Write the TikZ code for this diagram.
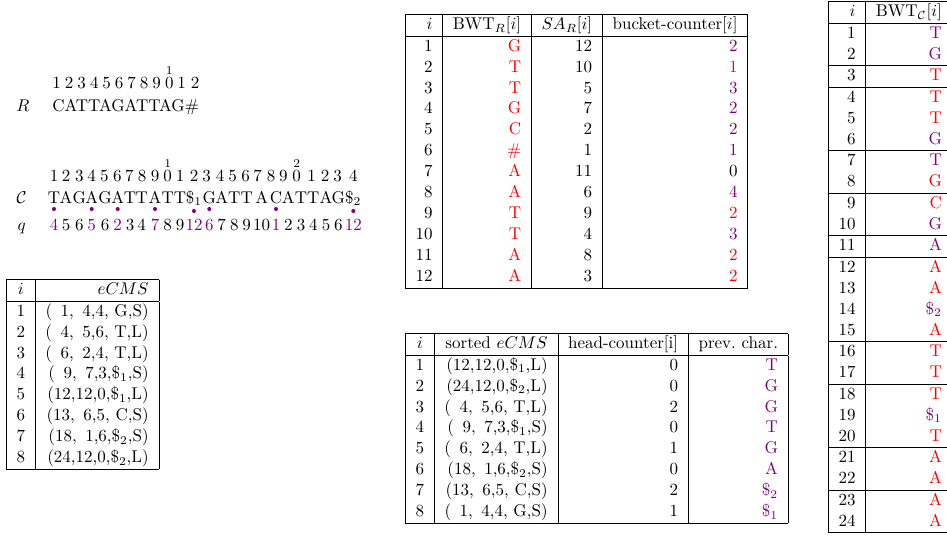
\documentclass[tikz,border=0pt]{standalone}
\renewcommand{\arraystretch}{1.025}
\newcommand{\rd}[1]{\textcolor{red}{#1}}
\newcommand{\pu}[1]{\textcolor{violet}{#1}}
\newcommand{\dol}[1]{\$\ensuremath{_{#1}}}
\newcommand{\ph}{\phantom{1}}
\begin{document}
\begin{tikzpicture}[x=0.5882pt,y=-0.5882pt,
        tbl/.style={anchor=north west,inner sep=0pt},
        chr/.style={anchor=base,inner sep=0pt},
        tens/.style={anchor=base,inner sep=0pt,font=\scriptsize},
        qdot/.style={circle,fill=violet,inner sep=0pt,minimum size=2.4pt}]
        \useasboundingbox (0,0) rectangle (947,536);
        \node[chr] (lR) at (23,111) {$R$};
        \node[chr,anchor=base west] (R) at (52,111) {CATTAGATTAG\#};
        \foreach \x/\d [count=\k] in {56.7/1,69/2,81.7/3,94.3/4,106.7/5,119/6,131.7/7,144/8,156.7/9,169.3/0,181.7/1,195/2}
            \node[chr] (r\k) at (\x,88.5) {\d};
        \node[tens] (rt1) at (169.3,74.5) {1};
        \node[chr] (lC) at (21.7,203) {$\mathcal{C}$};
        \node[chr] (lq) at (21.7,230.5) {$q$};
        \foreach \x/\d [count=\k] in {54/1,66/2,79.3/3,91.7/4,104.3/5,117.3/6,129.3/7,142/8,155/9,167.7/0,180/1,194/2,206.7/3,220/4,232.7/5,245.7/6,257.7/7,271/8,283.3/9,296.7/0,311.7/1,325/2,337.7/3,353.3/4}
            \node[chr] (n\k) at (\x,181.5) {\d};
        \node[tens] (ct1) at (167.7,167.5) {1};
        \node[tens] (ct2) at (296.7,167.5) {2};
        \foreach \x/\c [count=\k] in {54/T,66/A,79.3/G,91.7/A,105/G,117.7/A,130/T,141.7/T,155/A,167.7/T,180/T,194/\dol1,209.3/G,221.7/A,234.3/T,246.7/T,261.7/A,276/C,288.3/A,301/T,313.3/T,326/A,338.3/G,353.3/\dol2}
            \node[chr] (c\k) at (\x,203) {\c};
        \foreach \x/\y [count=\k] in {54/209,91.7/209,117.7/209,155/209,194/211,209.3/209,276/209,353.3/211}
            \node[qdot] (dot\k) at (\x,\y) {};
        \foreach \x/\v/\col [count=\k] in {54/4/violet,66/5/black,79.3/6/black,91.7/5/violet,105/6/black,117.7/2/violet,130/3/black,141.7/4/black,155/7/violet,167.7/8/black,180/9/black,194/12/violet,209.3/6/violet,221.7/7/black,234.3/8/black,246.7/9/black,261.7/10/black,276/1/violet,288.3/2/black,301/3/black,313.3/4/black,326/5/black,338.3/6/black,353.3/12/violet}
            \node[chr,text=\col] (q\k) at (\x,230.5) {\v};
        \node[tbl] (eCMS) at (6,279) {\begin{tabular}{|c|r|}\hline
            $i$ & $eCMS$\\\hline
            1 & (\ph1,\ph4,4,\ G,S)\\
            2 & (\ph4,\ph5,6,\ T,L)\\
            3 & (\ph6,\ph2,4,\ T,L)\\
            4 & (\ph9,\ph7,3,\dol1,S)\\
            5 & (12,12,0,\dol1,L)\\
            6 & (13,\ph6,5,\ C,S)\\
            7 & (18,\ph1,6,\dol2,S)\\
            8 & (24,12,0,\dol2,L)\\\hline
        \end{tabular}};
        \node[tbl] (bwtR) at (405,14) {\begin{tabular}{|r|r|r|r|}\hline
            $i$ & BWT$_R[i]$ & $SA_R[i]$ & bucket-counter$[i]$\\\hline
            1 & \rd{G} & 12 & \pu{2}\\
            2 & \rd{T} & 10 & \rd{1}\\
            3 & \rd{T} & 5 & \pu{3}\\
            4 & \rd{G} & 7 & \pu{2}\\
            5 & \rd{C} & 2 & \pu{2}\\
            6 & \rd{\#} & 1 & \pu{1}\\
            7 & \rd{A} & 11 & 0\\
            8 & \rd{A} & 6 & \pu{4}\\
            9 & \rd{T} & 9 & \rd{2}\\
            10 & \rd{T} & 4 & \pu{3}\\
            11 & \rd{A} & 8 & \rd{2}\\
            12 & \rd{A} & 3 & \rd{2}\\\hline
        \end{tabular}};
        \node[tbl] (sorted) at (405,333) {\begin{tabular}{|c|r|r|r|}\hline
            $i$ & sorted $eCMS$ & head-counter[i] & prev.\ char.\\\hline
            1 & (12,12,0,\dol1,L) & 0 & \pu{T}\\
            2 & (24,12,0,\dol2,L) & 0 & \pu{G}\\
            3 & (\ph4,\ph5,6,\ T,L) & 2 & \pu{G}\\
            4 & (\ph9,\ph7,3,\dol1,S) & 0 & \pu{T}\\
            5 & (\ph6,\ph2,4,\ T,L) & 1 & \pu{G}\\
            6 & (18,\ph1,6,\dol2,S) & 0 & \pu{A}\\
            7 & (13,\ph6,5,\ C,S) & 2 & \pu{\dol2}\\
            8 & (\ph1,\ph4,4,\ G,S) & 1 & \pu{\dol1}\\\hline
        \end{tabular}};
        \node[tbl] (bwtC) at (828,1) {\begin{tabular}{|r|r|}\hline
            $i$ & BWT$_{\mathcal{C}}[i]$\\\hline
            1 & \pu{T}\\ 2 & \pu{G}\\\hline
            3 & \rd{T}\\\hline
            4 & \rd{T}\\ 5 & \rd{T}\\ 6 & \pu{G}\\\hline
            7 & \pu{T}\\ 8 & \rd{G}\\\hline
            9 & \rd{C}\\ 10 & \pu{G}\\\hline
            11 & \pu{A}\\\hline
            12 & \rd{A}\\ 13 & \rd{A}\\ 14 & \pu{\dol2}\\ 15 & \rd{A}\\\hline
            16 & \rd{T}\\ 17 & \rd{T}\\\hline
            18 & \rd{T}\\ 19 & \pu{\dol1}\\ 20 & \rd{T}\\\hline
            21 & \rd{A}\\ 22 & \rd{A}\\\hline
            23 & \rd{A}\\ 24 & \rd{A}\\\hline
        \end{tabular}};
\end{tikzpicture}
\end{document}
